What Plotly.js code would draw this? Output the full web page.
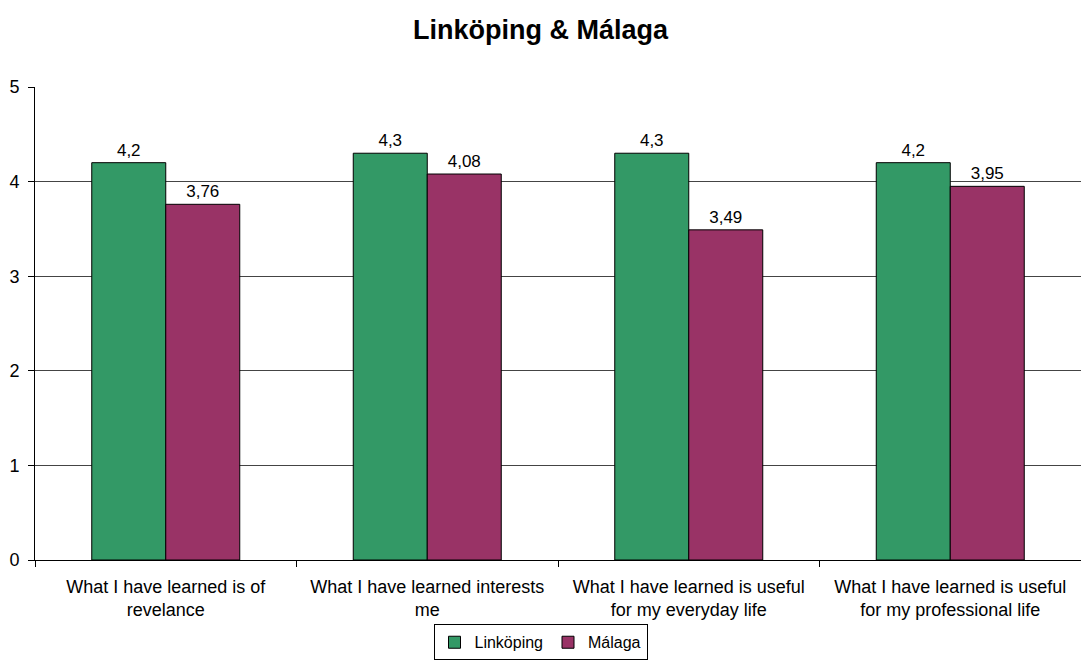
<!DOCTYPE html>
<html>
<head>
<meta charset="utf-8">
<script src="https://cdn.plot.ly/plotly-3.0.1.min.js"></script>
<style>
  html, body { margin: 0; padding: 0; background: #fff; }
  #graph { width: 1081px; height: 661px; }
</style>
</head>
<body>
<div id="graph"></div>
<script>
const categories = [
    'What I have learned is of<br>revelance',
    'What I have learned interests<br>me',
    'What I have learned is useful<br>for my everyday life',
    'What I have learned is useful<br>for my professional life'
];
const linkoping = [4.2, 4.3, 4.3, 4.2];
const malaga = [3.76, 4.08, 3.49, 3.95];
const yTicks = [0, 1, 2, 3, 4, 5];

// comma decimals like the original
const fmt = v => String(v).replace('.', ',');

function plotGraph() {
    const graph = document.getElementById('graph');

    const common = {
        type: 'bar',
        textposition: 'outside',
        cliponaxis: false,
        textfont: { family: 'Liberation Sans, Arial', size: 17, color: '#000' },
        hoverinfo: 'none'
    };

    const traces = [
        Object.assign({}, common, {
            name: 'Linköping',
            x: categories,
            y: linkoping,
            text: linkoping.map(fmt),
            marker: { color: '#339966', line: { color: '#000', width: 1 } }
        }),
        Object.assign({}, common, {
            name: 'Málaga',
            x: categories,
            y: malaga,
            text: malaga.map(fmt),
            marker: { color: '#993366', line: { color: '#000', width: 1 } }
        })
    ];

    const layout = {
        width: 1081,
        height: 661,
        margin: { l: 35, r: 0, t: 87, b: 101 },
        paper_bgcolor: '#fff',
        plot_bgcolor: '#fff',
        font: { family: 'Liberation Sans, Arial', size: 17, color: '#000' },
        title: {
            text: '<b>Linköping & Málaga</b>',
            font: { family: 'Liberation Sans, Arial', size: 27, color: '#000' },
            x: 0.5,
            xanchor: 'center',
            y: 0.955,
            yanchor: 'middle'
        },
        barmode: 'group',
        bargap: 0.434,
        bargroupgap: 0,
        showlegend: true,
        legend: {
            orientation: 'h',
            xref: 'container',
            yref: 'container',
            x: 0.5,
            xanchor: 'center',
            y: 0.001,
            yanchor: 'bottom',
            bordercolor: '#000',
            borderwidth: 1,
            font: { size: 16 },
            itemwidth: 30,
            tracegroupgap: 0
        },
        xaxis: {
            automargin: false,
            showline: true,
            linecolor: '#000',
            linewidth: 1,
            ticks: 'outside',
            tickson: 'boundaries',
            ticklen: 6,
            tickcolor: '#000',
            ticklabelstandoff: 10,
            showgrid: false,
            tickfont: { size: 18 },
            fixedrange: true
        },
        yaxis: {
            automargin: false,
            range: [0, 5],
            tickvals: yTicks,
            showline: true,
            linecolor: '#000',
            linewidth: 1,
            ticks: 'outside',
            ticklen: 6,
            tickcolor: '#000',
            ticklabelstandoff: 5,
            showgrid: true,
            gridcolor: '#444',
            gridwidth: 1,
            zeroline: false,
            tickfont: { size: 18 },
            fixedrange: true
        }
    };

    Plotly.newPlot(graph, traces, layout, { displayModeBar: false, staticPlot: true });
}

plotGraph();
</script>
</body>
</html>
